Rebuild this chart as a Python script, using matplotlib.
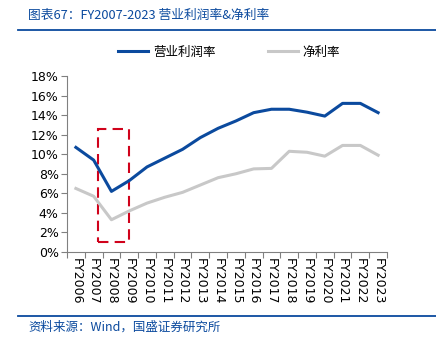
import matplotlib
matplotlib.use("Agg")
import matplotlib.pyplot as plt
from matplotlib.patches import Rectangle
from matplotlib.lines import Line2D

plt.rcParams['font.family'] = ['Noto Sans CJK SC', 'DejaVu Sans']

years = ["FY2006", "FY2007", "FY2008", "FY2009", "FY2010", "FY2011", "FY2012", "FY2013", "FY2014",
         "FY2015", "FY2016", "FY2017", "FY2018", "FY2019", "FY2020", "FY2021", "FY2022", "FY2023"]
op_margin = [10.7, 9.4, 6.2, 7.3, 8.7, 9.6, 10.5, 11.7, 12.65, 13.4, 14.25, 14.6, 14.6, 14.3, 13.9, 15.2, 15.2, 14.25]
net_margin = [6.5, 5.7, 3.3, 4.2, 5.0, 5.6, 6.1, 6.85, 7.6, 8.0, 8.5, 8.55, 10.3, 10.2, 9.8, 10.9, 10.9, 9.9]
yticks = [0, 2, 4, 6, 8, 10, 12, 14, 16, 18]

blue = "#0B4A9E"
gray = "#C8C8C8"

fig = plt.figure(figsize=(4.36, 3.53), dpi=100)
ax = fig.add_axes([67/436, 1-252/353, 320/436, 176/353])

x = list(range(len(years)))
ax.plot(x, op_margin, color=blue, lw=2.2, label="营业利润率")
ax.plot(x, net_margin, color=gray, lw=2.2, label="净利率")

ax.set_xlim(-0.5, len(years)-0.5)
ax.set_ylim(0, 18)
ax.set_yticks(yticks)
ax.set_yticklabels([f"{v}%" for v in yticks], fontsize=9, family='DejaVu Sans')
ax.set_xticks([i - 0.5 for i in range(len(years)+1)], minor=False)
ax.set_xticklabels([])
ax.set_xticks(x, minor=True)
ax.set_xticklabels(years, minor=True, rotation=-90, fontsize=9, family='DejaVu Sans')
ax.tick_params(axis='x', which='minor', length=0, pad=4)
ax.tick_params(axis='x', which='major', length=4, color='#808080', direction='out')
ax.tick_params(axis='y', length=4, color='#808080', direction='out', pad=2)
for s in ['top', 'right']:
    ax.spines[s].set_visible(False)
for s in ['left', 'bottom']:
    ax.spines[s].set_color('#808080')

rect = Rectangle((1.22, 1.0), 1.78, 11.6, fill=False, edgecolor='#D0021B', lw=1.5,
                 ls=(0, (5, 3)), clip_on=False)
ax.add_patch(rect)

# legend
fig.legend(handles=[Line2D([], [], color=blue, lw=2.2), Line2D([], [], color=gray, lw=2.2)],
           labels=["营业利润率", "净利率"], loc='center', bbox_to_anchor=(229/436, 1-52/353),
           ncol=2, frameon=False, fontsize=9, handlelength=2.4, columnspacing=4.2, handletextpad=0.4)

# title
fig.text(28/436, 1-15/353, "图表67：FY2007-2023 营业利润率&净利率", color=blue, fontsize=9.2,
         style='italic', va='center', ha='left')
fig.add_artist(Line2D([18/436, 1.0], [1-30/353, 1-30/353], color=blue, lw=1.3))
fig.add_artist(Line2D([18/436, 1.0], [1-316/353, 1-316/353], color=blue, lw=1.3))
fig.text(28/436, 1-327/353, "资料来源：Wind，国盛证券研究所", color=blue, fontsize=9,
         style='italic', va='center', ha='left')

fig.savefig("out.png", dpi=100)
